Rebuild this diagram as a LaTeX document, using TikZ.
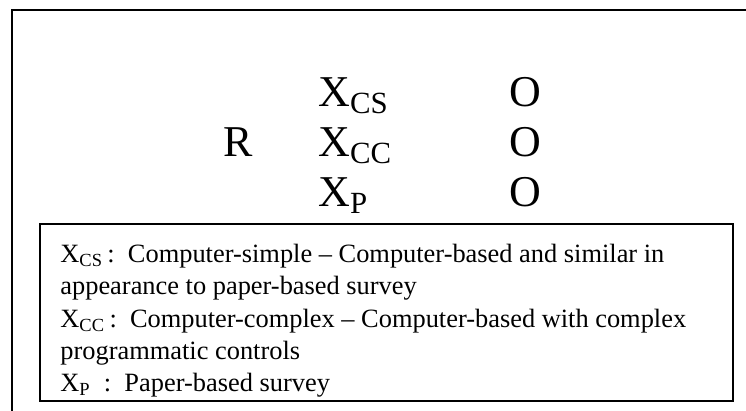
\documentclass[tikz,border=0pt]{standalone}
\usepackage{fontspec}
\setmainfont{Liberation Serif}
\usetikzlibrary{positioning}

\begin{document}
\begin{tikzpicture}[x=0.5pt, y=0.5pt,
  big/.style={font=\fontsize{22}{26}\selectfont, inner sep=0pt, anchor=base west},
  frame/.style={draw, line width=1pt},
  key/.style={font=\fontsize{13.2}{16.1}\selectfont, align=left, inner sep=0pt, anchor=north west}]
\useasboundingbox (0,0) rectangle (746,411);

% outer frame, cut off by the page at right and bottom
\draw[frame] (12,0) -- (12,401) -- (746,401);

% design: randomisation, the three groups, observation
\node[big] (r)   at (223,254) {R};
\node[big] (xcs) at (318,304) {X\textsubscript{CS}};
\node[big] (xcc) at (318,254) {X\textsubscript{CC}};
\node[big] (xp)  at (318,204) {X\textsubscript{P}};
\node[big] (ocs) at (509,304) {O};
\node[big] (occ) at (509,254) {O};
\node[big] (op)  at (509,204) {O};

% key to the groups
\node[frame, anchor=north west, inner sep=0pt, minimum width=346.5pt, minimum height=88.5pt] (keybox) at (39,188) {};
\node[key] (key) at (60,167)
  {X\textsubscript{CS}\,:\enspace Computer-simple -- Computer-based and similar in\\
   appearance to paper-based survey\\
   X\textsubscript{CC}\,:\enspace Computer-complex -- Computer-based with complex\\
   programmatic controls\\
   X\textsubscript{P}\ \ :\enspace Paper-based survey};
\end{tikzpicture}
\end{document}
